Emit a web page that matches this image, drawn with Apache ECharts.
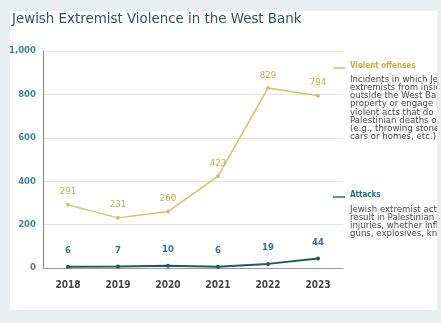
<!DOCTYPE html>
<html><head><meta charset="utf-8">
<script src="https://cdn.jsdelivr.net/npm/echarts@6/dist/echarts.min.js"></script>
<style>html,body{margin:0;padding:0;background:#e9eef1}#c{width:441px;height:323px}</style>
</head><body><div id="c"></div>
<script>
var years = ['2018','2019','2020','2021','2022','2023'];
var violentOffenses = [291, 231, 260, 423, 829, 794];
var attacks = [6, 7, 10, 6, 19, 44];
var yTicks = [0, 200, 400, 600, 800, 1000];
var violentDesc = ['Incidents in which Jewish','extremists from inside and','outside the West Bank damage','property or engage in','violent acts that do not cause','Palestinian deaths or injuries','(e.g., throwing stones at','cars or homes, etc.)'];
var attacksDesc = ['Jewish extremist acts that','result in Palestinian deaths or','injuries, whether inflicted by','guns, explosives, knives, etc.'];

var cond = '"DejaVu Sans Condensed", "Liberation Sans Narrow", sans-serif';
var chart = echarts.init(document.getElementById('c'));
var descStyle = {fill:'#4a4a4a', fontFamily:'DejaVu Sans', fontSize:8.6, lineHeight:8.2};
var graphics = [
  {type:'rect', z:-10, shape:{x:10,y:11,width:427,height:299}, style:{fill:'#ffffff'}},
  {type:'text', left:12, top:13, style:{text:'Jewish Extremist Violence in the West Bank', fill:'#285468', fontFamily:'DejaVu Sans', fontSize:13.4}},
  {type:'line', shape:{x1:333,y1:68,x2:345,y2:68}, style:{stroke:'#d6c060', lineWidth:1.5}},
  {type:'text', left:350, top:62, style:{text:'Violent offenses', fill:'#c9ae3c', fontFamily:'DejaVu Sans Condensed', fontWeight:'bold', fontSize:8}},
  {type:'text', left:350, top:75, style:Object.assign({text:violentDesc.join('\n')}, descStyle)},
  {type:'line', shape:{x1:333,y1:197,x2:345,y2:197}, style:{stroke:'#2a6d8f', lineWidth:1.5}},
  {type:'text', left:350, top:191, style:{text:'Attacks', fill:'#2a6d8f', fontFamily:'DejaVu Sans Condensed', fontWeight:'bold', fontSize:8}},
  {type:'text', left:350, top:205, style:Object.assign({text:attacksDesc.join('\n')}, descStyle)},
  {type:'text', left:13, top:311, style:{rich:{b:{fontFamily:'DejaVu Sans', fontStyle:'italic', fontWeight:'bold', fontSize:5.5, fill:'#333'}, n:{fontFamily:'DejaVu Sans', fontSize:5.5, fill:'#555'}}, text:'{b|Source:} {n|Israel Security Agency}'}},
  {type:'rect', z:100, shape:{x:437,y:0,width:4,height:323}, style:{fill:'#e9eef1'}},
  {type:'rect', z:100, shape:{x:0,y:310,width:441,height:13}, style:{fill:'#e9eef1'}}
];
chart.setOption({
  backgroundColor:'#e9eef1',
  animation:false,
  graphic: graphics,
  grid:{left:43, right:98, top:51, bottom:55},
  xAxis:{type:'category', data:years, boundaryGap:true,
    axisLine:{lineStyle:{color:'#9a9a9a', width:1}},
    axisTick:{inside:true, length:4, lineStyle:{color:'#777'}},
    axisLabel:{color:'#444', fontFamily:cond, fontWeight:'bold', fontSize:10, margin:12}},
  yAxis:{type:'value', min:yTicks[0], max:yTicks[yTicks.length-1], interval:200,
    axisLine:{show:true, lineStyle:{color:'#8a8a8a'}},
    axisTick:{show:false},
    splitLine:{lineStyle:{color:'#e4e4e4'}},
    axisLabel:{color:'#4d7fa5', fontFamily:cond, fontWeight:'bold', fontSize:9.5, margin:7,
      formatter:function(v){return v.toLocaleString('en-US');}}},
  series:[
    {name:'Violent offenses', type:'line', data:violentOffenses, symbol:'circle', symbolSize:4,
      itemStyle:{color:'#d8c25e'}, lineStyle:{color:'#d8c25e', width:1.5},
      label:{show:true, position:'top', distance:6, color:'#c8ae45', fontFamily:cond, fontSize:9.5}},
    {name:'Attacks', type:'line', data:attacks, symbol:'circle', symbolSize:4,
      itemStyle:{color:'#1e566d'}, lineStyle:{color:'#1e566d', width:2},
      label:{show:true, position:'top', distance:9, color:'#3572a0', fontFamily:cond, fontWeight:'bold', fontSize:9.5}}
  ]
});
</script></body></html>
